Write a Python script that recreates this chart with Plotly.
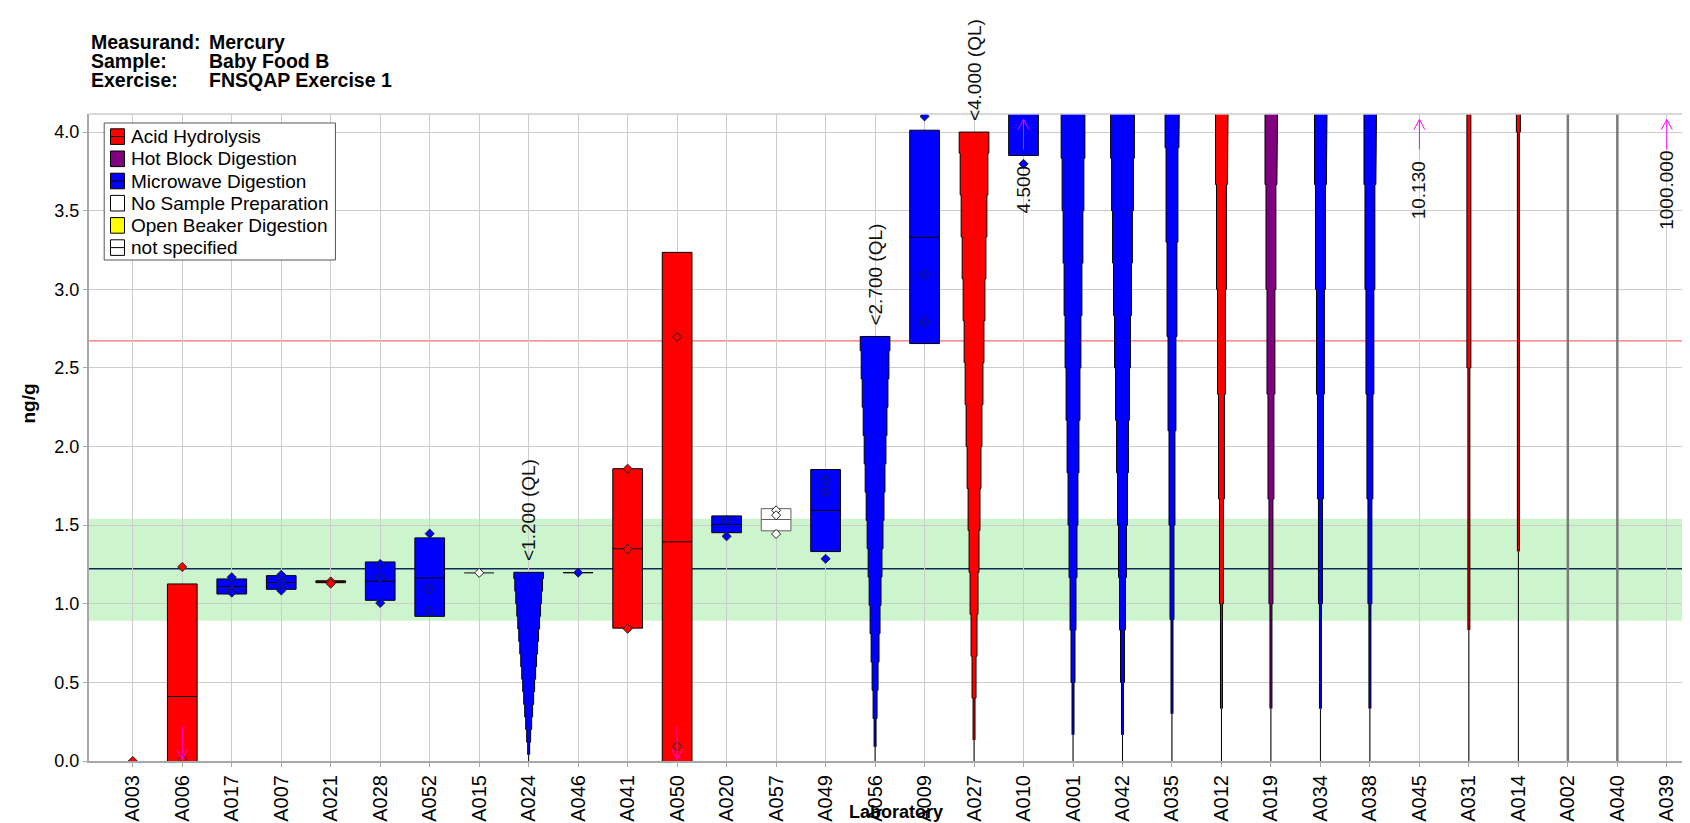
import plotly.graph_objects as go

# laboratories in plot order
LABS = ["A003", "A006", "A017", "A007", "A021", "A028", "A052", "A015", "A024", "A046",
        "A041", "A050", "A020", "A057", "A049", "A056", "A009", "A027", "A010", "A001",
        "A042", "A035", "A012", "A019", "A034", "A038", "A045", "A031", "A014", "A002",
        "A040", "A039"]

METHODS = ["Acid Hydrolysis", "Hot Block Digestion", "Microwave Digestion",
           "No Sample Preparation", "Open Beaker Digestion", "not specified"]
METHOD_COLORS = ["#ff0000", "#800080", "#0000ff", "#ffffff", "#ffff00", "#ffffff"]
LEGEND_MEDIAN = [True, False, True, False, False, True]

ASSIGNED_VALUE = 1.223
TOL_LOW = 0.892
TOL_HIGH = 1.541
UPPER_LINE = 2.672

# results shown as boxes
BOX_LABS = ["A006", "A017", "A007", "A021", "A028", "A052", "A015", "A046", "A041", "A050",
            "A020", "A057", "A049", "A009", "A010"]
BOX_METHOD = ["Acid Hydrolysis", "Microwave Digestion", "Microwave Digestion", "Acid Hydrolysis",
              "Microwave Digestion", "Microwave Digestion", "No Sample Preparation",
              "Microwave Digestion", "Acid Hydrolysis", "Acid Hydrolysis", "Microwave Digestion",
              "No Sample Preparation", "Microwave Digestion", "Microwave Digestion",
              "Microwave Digestion"]
BOX_LOW = [-0.30, 1.062, 1.092, 1.134, 1.022, 0.920, 1.197, 1.198, 0.845, -0.45,
           1.452, 1.464, 1.332, 2.655, 3.851]
BOX_MEDIAN = [0.410, 1.109, 1.135, 1.140, 1.143, 1.164, 1.197, 1.198, 1.350, 1.394,
              1.505, 1.536, 1.594, 3.331, 4.500]
BOX_HIGH = [1.126, 1.158, 1.179, 1.146, 1.266, 1.419, 1.197, 1.198, 1.859, 3.235,
            1.559, 1.605, 1.854, 4.012, 5.150]

# single replicate results
PT_LABS = ["A003", "A006", "A006", "A017", "A017", "A017", "A007", "A007", "A007", "A021",
           "A021", "A028", "A028", "A028", "A052", "A052", "A052", "A015", "A046", "A041",
           "A041", "A041", "A050", "A050", "A020", "A020", "A057", "A057", "A057", "A049",
           "A049", "A049", "A009", "A009", "A009", "A010"]
PT_VALUES = [0.0, 1.234, 0.010, 1.169, 1.092, 1.071, 1.184, 1.135, 1.084, 1.142,
             1.128, 1.253, 1.164, 1.005, 1.446, 1.092, 0.952, 1.197, 1.198, 1.859,
             1.348, 0.841, 2.697, 0.094, 1.533, 1.429, 1.594, 1.563, 1.444, 1.783,
             1.709, 1.286, 4.100, 3.094, 2.797, 3.798]
PT_METHOD = (["Acid Hydrolysis"] * 3 + ["Microwave Digestion"] * 6 + ["Acid Hydrolysis"] * 2
             + ["Microwave Digestion"] * 6 + ["No Sample Preparation"] + ["Microwave Digestion"]
             + ["Acid Hydrolysis"] * 5 + ["Microwave Digestion"] * 2
             + ["No Sample Preparation"] * 3 + ["Microwave Digestion"] * 7)

# results reported as "< QL"
QL_LABS = ["A024", "A056", "A027", "A001", "A042", "A035", "A012", "A019", "A034", "A038",
           "A031", "A014", "A002", "A040"]
QL_VALUES = [1.2, 2.7, 4.0, 5.0, 5.0, 9.0, 10.0, 10.0, 10.0, 10.0, 25.0, 40.0, 200.0, 500.0]
QL_METHOD = ["Microwave Digestion", "Microwave Digestion", "Acid Hydrolysis",
             "Microwave Digestion", "Microwave Digestion", "Microwave Digestion",
             "Acid Hydrolysis", "Hot Block Digestion", "Microwave Digestion",
             "Microwave Digestion", "Acid Hydrolysis", "Acid Hydrolysis", "not specified",
             "not specified"]

# values off the scale
HIGH_LABS = ["A010", "A045", "A039"]
HIGH_VALUES = [4.5, 10.13, 1000.0]
LOW_LABS = ["A006", "A050"]

HEADER = [("Measurand:", "Mercury"), ("Sample:", "Baby Food B"), ("Exercise:", "FNSQAP Exercise 1")]

FONT = "Liberation Sans, Arial, sans-serif"
W, H = 1690, 823
ML, MT, MB = 80.5, 106, 70
PW, PH = W - ML, H - MT - MB
Y_MAX = 4.115
X_RANGE = [-0.885, len(LABS) - 1 + 0.63]
HALF_W = 0.3
STEPS = 15

color_of = dict(zip(METHODS, METHOD_COLORS))
pos = {lab: i for i, lab in enumerate(LABS)}


def px_x(px):
    return (px - ML) / PW


def px_y(py):
    return (H - MB - py) / PH


fig = go.Figure()

# QL tapers
for m in METHODS:
    xs, ys = [], []
    for lab, q, mm in zip(QL_LABS, QL_VALUES, QL_METHOD):
        if mm != m:
            continue
        x0 = pos[lab]
        right = []
        for k in range(1, STEPS + 1):
            lo = (k - 0.5) * q / STEPS
            hi = min((k + 0.5) * q / STEPS, q)
            hw = HALF_W * k / STEPS
            right += [(x0 + hw, lo), (x0 + hw, hi)]
        left = [(2 * x0 - x, y) for x, y in reversed(right)]
        for x, y in right + left:
            xs.append(x)
            ys.append(y)
        xs.append(None)
        ys.append(None)
    if xs:
        fig.add_trace(go.Scatter(x=xs, y=ys, mode="lines", fill="toself",
                                 fillcolor=color_of[m], line=dict(color="black", width=1),
                                 showlegend=False, hoverinfo="skip"))

# stems below the tapers
for white in (False, True):
    xs, ys = [], []
    for lab, q, mm in zip(QL_LABS, QL_VALUES, QL_METHOD):
        if (color_of[mm] == "#ffffff") != white:
            continue
        xs += [pos[lab], pos[lab], None]
        ys += [0, 0.5 * q / STEPS, None]
    fig.add_trace(go.Scatter(x=xs, y=ys, mode="lines",
                             line=dict(color="#7a7a7a" if white else "black",
                                       width=2.5 if white else 1),
                             showlegend=False, hoverinfo="skip"))

# boxes
for m in METHODS:
    idx = [i for i, mm in enumerate(BOX_METHOD) if mm == m]
    if not idx:
        continue
    fig.add_trace(go.Box(
        x=[pos[BOX_LABS[i]] for i in idx],
        q1=[BOX_LOW[i] for i in idx], median=[BOX_MEDIAN[i] for i in idx],
        q3=[BOX_HIGH[i] for i in idx],
        lowerfence=[BOX_LOW[i] for i in idx], upperfence=[BOX_HIGH[i] for i in idx],
        width=2 * HALF_W, whiskerwidth=0, fillcolor=color_of[m],
        line=dict(color="#606060" if color_of[m] == "#ffffff" else "black", width=1),
        boxpoints=False, showlegend=False, hoverinfo="skip"))

# replicate points
for m in METHODS:
    idx = [i for i, mm in enumerate(PT_METHOD) if mm == m]
    if not idx:
        continue
    fig.add_trace(go.Scatter(
        x=[pos[PT_LABS[i]] for i in idx], y=[PT_VALUES[i] for i in idx], mode="markers",
        marker=dict(symbol="diamond", size=7, color=color_of[m],
                    line=dict(color="#202020", width=1)),
        showlegend=False, hoverinfo="skip"))

# off-scale arrows
ax, ay = [], []
for lab in HIGH_LABS:
    x0 = pos[lab]
    ax += [x0, x0, None, x0 - 0.11, x0, x0 + 0.11, None]
    ay += [3.89, 4.08, None, 4.016, 4.08, 4.016, None]
for lab in LOW_LABS:
    x0 = pos[lab]
    ax += [x0, x0, None, x0 - 0.11, x0, x0 + 0.11, None]
    ay += [0.22, 0.01, None, 0.074, 0.01, 0.074, None]
fig.add_trace(go.Scatter(x=ax, y=ay, mode="lines", line=dict(color="#ff00ff", width=1),
                         showlegend=False, hoverinfo="skip"))

annotations = []
for lab, q in zip(QL_LABS, QL_VALUES):
    if q <= Y_MAX:
        annotations.append(dict(x=pos[lab], y=q, xref="x", yref="y", text="<%.3f (QL)" % q,
                                textangle=-90, yanchor="bottom", xanchor="center", yshift=9,
                                showarrow=False, font=dict(family=FONT, size=19, color="#111")))
for lab, v in zip(HIGH_LABS, HIGH_VALUES):
    annotations.append(dict(x=pos[lab], y=3.632, xref="x", yref="y", text="%.3f" % v,
                            textangle=-90, yanchor="middle", xanchor="center",
                            showarrow=False, font=dict(family=FONT, size=19, color="#111")))

for i, (k, v) in enumerate(HEADER):
    for txt, shift in ((k, 0), (v, 118)):
        annotations.append(dict(x=0, y=1, xref="paper", yref="paper", text="<b>%s</b>" % txt,
                                xanchor="left", yanchor="middle", xshift=shift,
                                yshift=72 - 19 * i, showarrow=False,
                                font=dict(family=FONT, size=19.5, color="black")))

annotations.append(dict(x=px_x(19), y=px_y(396), xref="paper", yref="paper", text="<b>ng/g</b>",
                        textangle=-90, showarrow=False, xanchor="center", yanchor="middle",
                        font=dict(family=FONT, size=19, color="black")))
annotations.append(dict(x=px_x(888), y=px_y(804), xref="paper", yref="paper",
                        text="<b>Laboratory</b>", showarrow=False, xanchor="center",
                        yanchor="middle", font=dict(family=FONT, size=18, color="black")))

shapes = [
    dict(type="rect", xref="paper", yref="y", x0=0, x1=1, y0=TOL_LOW, y1=TOL_HIGH,
         fillcolor="#cdf5cd", line=dict(width=0), layer="below"),
    dict(type="line", xref="paper", yref="y", x0=0, x1=1, y0=UPPER_LINE, y1=UPPER_LINE,
         line=dict(color="#ff6a6a", width=1.2), layer="between"),
    dict(type="line", xref="paper", yref="y", x0=0, x1=1, y0=ASSIGNED_VALUE, y1=ASSIGNED_VALUE,
         line=dict(color="#0c2a5c", width=1.5), layer="between"),
    dict(type="line", xref="paper", yref="paper", x0=0, x1=1, y0=1, y1=1,
         line=dict(color="#cccccc", width=1.5)),
]

# legend box
shapes.append(dict(type="rect", xref="paper", yref="paper", x0=px_x(95.7), x1=px_x(327),
                   y0=px_y(252), y1=px_y(115), fillcolor="white",
                   line=dict(color="#555555", width=1), layer="above"))
for i, (m, c, med) in enumerate(zip(METHODS, METHOD_COLORS, LEGEND_MEDIAN)):
    yc = 128.6 + i * 22.2
    shapes.append(dict(type="rect", xref="paper", yref="paper", x0=px_x(102), x1=px_x(116),
                       y0=px_y(yc + 7.8), y1=px_y(yc - 7.8), fillcolor=c,
                       line=dict(color="black", width=1), layer="above"))
    if med:
        shapes.append(dict(type="line", xref="paper", yref="paper", x0=px_x(102), x1=px_x(116),
                           y0=px_y(yc), y1=px_y(yc), line=dict(color="black", width=1),
                           layer="above"))
    annotations.append(dict(x=px_x(120.5), y=px_y(yc), xref="paper", yref="paper", text=m,
                            xanchor="left", yanchor="middle", showarrow=False,
                            font=dict(family=FONT, size=19, color="black")))

fig.update_layout(
    width=W, height=H, margin=dict(l=ML, r=0, t=MT, b=MB, autoexpand=False),
    paper_bgcolor="white", plot_bgcolor="white", boxmode="overlay", showlegend=False,
    font=dict(family=FONT, size=18, color="black"),
    shapes=shapes, annotations=annotations,
)
fig.update_xaxes(range=X_RANGE, tickmode="array", tickvals=list(range(len(LABS))),
                 ticktext=LABS, tickangle=-90, tickfont=dict(size=20, color="black"),
                 showgrid=True, gridcolor="#cccccc", gridwidth=1, zeroline=False,
                 showline=True, linecolor="#a8a8a8", linewidth=2,
                 ticks="outside", ticklen=4, tickcolor="#a8a8a8")
fig.update_yaxes(range=[0, Y_MAX], tickmode="linear", tick0=0, dtick=0.5, tickformat=".1f",
                 tickfont=dict(size=18, color="black"), showgrid=True, gridcolor="#cccccc",
                 gridwidth=1, zeroline=False, showline=True, linecolor="#a8a8a8", linewidth=2,
                 ticks="outside", ticklen=4, tickcolor="#a8a8a8")

fig.write_html("out.html")
